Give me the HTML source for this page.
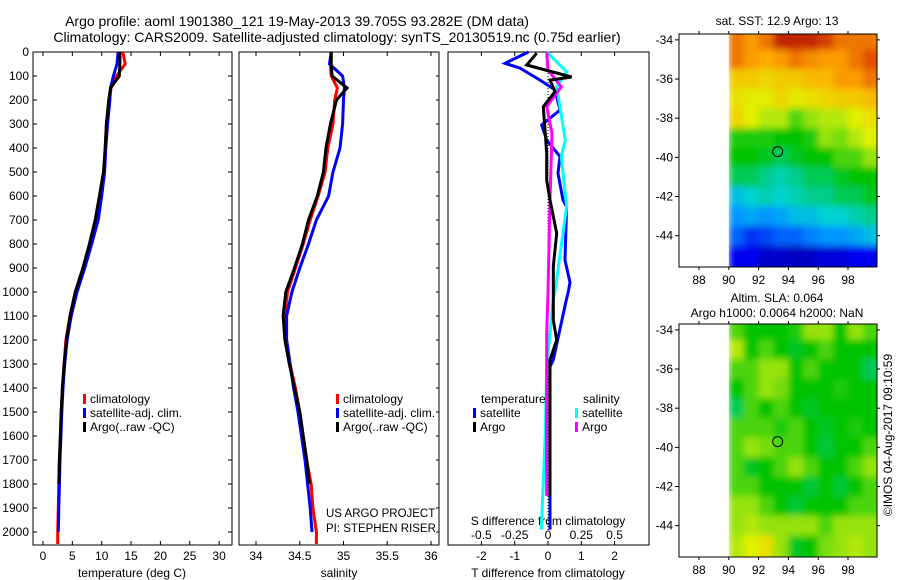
<!DOCTYPE html>
<html><head><meta charset="utf-8"><style>
html,body{margin:0;padding:0;background:#fff;}
svg{display:block;font-family:"Liberation Sans",sans-serif;}
text{font-size:12px;fill:#000;}
</style></head><body>
<svg id="chart" width="900" height="580" viewBox="0 0 900 580" xmlns="http://www.w3.org/2000/svg">
<defs>
<filter id="smooth" x="0" y="0" width="1" height="1"><feGaussianBlur stdDeviation="3.5" edgeMode="duplicate"/></filter>
</defs>
<text x="297" y="26" text-anchor="middle" style="font-size:14px">Argo profile: aoml 1901380_121 19-May-2013 39.705S 93.282E (DM data)</text>
<text x="337" y="42" text-anchor="middle" style="font-size:14px">Climatology: CARS2009. Satellite-adjusted climatology: synTS_20130519.nc (0.75d earlier)</text>
<text x="777" y="25" text-anchor="middle">sat. SST: 12.9 Argo: 13</text>
<text x="777" y="302" text-anchor="middle">Altim. SLA: 0.064</text>
<text x="777" y="317" text-anchor="middle">Argo h1000: 0.0064 h2000: NaN</text>
<text transform="translate(892,435) rotate(-90)" text-anchor="middle">©IMOS 04-Aug-2017 09:10:59</text>
<text x="326" y="517" style="font-size:11.5px">US ARGO PROJECT</text>
<text x="326" y="532" style="font-size:11.5px">PI: STEPHEN RISER</text>
<g id="g"></g>
</svg>
<script>
// ---- data ----
const depths = [0,50,100,150,200,300,400,500,600,700,800,900,1000,1100,1200,1300,1400,1500,1600,1700,1800,1900,2000,2050];
const tempClim = [13.6,14.0,12.5,11.6,11.3,10.8,10.6,10.4,9.7,9.1,8.0,6.8,5.5,4.6,3.9,3.6,3.3,3.1,3.0,2.8,2.7,2.6,2.5,2.5];
const tempSat  = [12.8,12.6,12.0,11.5,11.4,11.0,10.7,10.5,10.0,9.4,8.3,7.1,5.8,4.8,4.1,3.7,3.4,3.2,3.05,2.9,2.8,2.7,2.6,null];
const tempArgo = [13.1,13.1,13.0,11.5,11.2,10.8,10.6,10.3,9.6,8.9,7.9,6.8,5.5,4.6,4.0,3.6,3.3,3.1,2.95,2.8,2.7,null,null,null];
const salClim = [34.86,34.85,34.86,34.93,34.90,34.88,34.82,34.79,34.71,34.62,34.54,34.45,34.36,34.33,34.35,34.39,34.45,34.50,34.54,34.58,34.63,34.65,34.69,34.69];
const salSat  = [34.86,34.84,34.99,35.01,35.00,34.99,34.96,34.88,34.83,34.69,34.60,34.50,34.41,34.35,34.35,34.39,34.43,34.48,34.52,34.56,34.59,34.62,34.64,null];
const salArgo = [34.86,34.86,34.87,35.04,34.92,34.85,34.80,34.77,34.70,34.60,34.53,34.44,34.34,34.31,34.33,34.38,34.44,34.50,34.54,34.58,34.61,null,null,null];
const dTsatDepth = [0,47,67,117,158,242,304,367,436,505,617,645,867,960,1005,1033,1283,1311,1990];
const dTsat      = [-0.59,-1.29,-0.84,-0.24,0.21,0.36,-0.19,-0.04,0.36,0.30,0.45,0.56,0.51,0.66,0.60,0.55,0.16,0.06,0.06];
const dTargoDepth = [5,54,104,117,165,228,422,533,617,755,894,1033,1117,1200,1283,1850];
const dTargo      = [-0.34,-0.64,0.71,0.06,0.21,-0.14,-0.04,-0.04,0.06,0.26,0.16,0.16,0.16,0.26,0.06,0.06];
const dSsatDepth = [0,82,145,367,436,645,1005,1033,1311,1590,1990];
const dSsat      = [-0.01,0.14,0.065,0.13,0.10,0.14,0.05,0.04,-0.01,-0.02,-0.05];
const dSargoDepth = [0,75,145,228,339,617,1005,1172,1800,1850];
const dSargo      = [-0.01,0.0,0.10,-0.01,0.03,0.015,0.0,-0.01,-0.01,-0.01];
const mapLats = [-34,-35,-36,-37,-38,-39,-40,-41,-42,-43,-44,-45];
const mapLons = [90,91,92,93,94,95,96,97,98,99];
const sstGrid = [
[0.85,0.8,0.85,0.95,0.95,0.95,0.92,0.85,0.85,0.85],
[0.85,0.8,0.78,0.8,0.85,0.82,0.8,0.8,0.85,0.9],
[0.72,0.72,0.7,0.72,0.72,0.75,0.75,0.8,0.8,0.85],
[0.68,0.66,0.66,0.7,0.66,0.68,0.7,0.72,0.72,0.75],
[0.7,0.65,0.62,0.62,0.55,0.6,0.62,0.62,0.65,0.68],
[0.52,0.52,0.52,0.5,0.5,0.52,0.6,0.58,0.62,0.65],
[0.5,0.5,0.48,0.45,0.48,0.5,0.5,0.55,0.55,0.6],
[0.45,0.45,0.42,0.4,0.42,0.45,0.45,0.48,0.5,0.5],
[0.35,0.38,0.4,0.38,0.4,0.42,0.42,0.45,0.45,0.48],
[0.3,0.32,0.3,0.32,0.35,0.35,0.38,0.38,0.4,0.42],
[0.25,0.2,0.22,0.25,0.25,0.28,0.3,0.3,0.32,0.35],
[0.15,0.15,0.1,0.1,0.08,0.1,0.12,0.12,0.15,0.15]];
const slaGrid = [
[.55,.5,.5,.5,.52,.6,.6,.5,.6,.55],
[.62,.5,.55,.5,.48,.5,.55,.5,.5,.5],
[.55,.55,.6,.6,.5,.55,.5,.5,.5,.45],
[.5,.55,.6,.58,.5,.5,.5,.52,.5,.5],
[.45,.55,.5,.55,.5,.48,.5,.5,.5,.5],
[.55,.55,.55,.52,.55,.5,.48,.5,.52,.5],
[.55,.6,.58,.55,.55,.5,.47,.5,.5,.55],
[.55,.48,.5,.55,.6,.55,.5,.5,.55,.6],
[.55,.55,.5,.5,.5,.47,.5,.47,.5,.55],
[.6,.6,.55,.5,.47,.5,.5,.5,.55,.55],
[.6,.62,.6,.6,.6,.6,.55,.6,.6,.6],
[.62,.65,.68,.6,.48,.5,.58,.6,.62,.6]];
const floatLon = 93.28, floatLat = -39.705;
const depthTicks = [0,100,200,300,400,500,600,700,800,900,1000,1100,1200,1300,1400,1500,1600,1700,1800,1900,2000];
const tempTicks = [0,5,10,15,20,25,30];
const salTicks = [34,34.5,35,35.5,36];
const salTickLabels = ["34","34.5","35","35.5","36"];
const dTTicks = [-2,-1,0,1,2];
const dSTicks = [-0.5,-0.25,0,0.25,0.5];
const dSTickLabels = ["-0.5","-0.25","0","0.25","0.5"];
const latTicks = [-34,-36,-38,-40,-42,-44];
const lonTicks = [88,90,92,94,96,98];

// ---- helpers ----
const NS="http://www.w3.org/2000/svg";
const G=document.getElementById('g');
function mk(tag,attrs,parent){const e=document.createElementNS(NS,tag);for(const k in attrs)e.setAttribute(k,attrs[k]);(parent||G).appendChild(e);return e;}
const yD = d => 52 + 0.24*d;
const xT = t => 43 + 5.87*t;
const xS = s => 256 + 87.5*(s-34);
const xdT = v => 548 + 33.3*v;
const xdS = v => 548 + 133.2*v;

function panel(x0,x1,name){
  const r=mk('rect',{x:x0,y:52,width:x1-x0,height:493,fill:'none',stroke:'#000','stroke-width':1});
  
  
}
function line(xs,ds,fx,color,name,w){
  let pts=[];
  for(let i=0;i<xs.length;i++){ if(xs[i]===null) continue; pts.push(fx(xs[i]).toFixed(1)+','+yD(ds[i]).toFixed(1)); }
  const p=mk('polyline',{points:pts.join(' '),fill:'none',stroke:color,'stroke-width':w||3,'stroke-linejoin':'miter'});
  
  
}
function txt(x,y,s,anchor,name){
  const t=mk('text',{x:x,y:y,'text-anchor':anchor||'start'});t.textContent=s;
  
  
  return t;
}
function legend(x,y,color,label,name){
  const r=mk('rect',{x:x,y:y-9,width:3,height:10,fill:color});
  
  
  txt(x+7,y,label,'start',name);
}

panel(33,232,'temperature-panel');
panel(239,439,'salinity-panel');
panel(448,649,'difference-panel');

depthTicks.forEach(d=>{
  const y=yD(d);
  mk('line',{x1:33,y1:y,x2:37,y2:y,stroke:'#000'});
  mk('line',{x1:228,y1:y,x2:232,y2:y,stroke:'#000'});
  mk('line',{x1:436,y1:y,x2:439,y2:y,stroke:'#000'});
  txt(29,y+4,String(d),'end','depth-tick-label');
});
tempTicks.forEach(t=>{const x=xT(t);
  mk('line',{x1:x,y1:545,x2:x,y2:541,stroke:'#000'});mk('line',{x1:x,y1:52,x2:x,y2:56,stroke:'#000'});
  txt(x,560,String(t),'middle','temperature-tick-label');});
salTicks.forEach((s,i)=>{const x=xS(s);
  mk('line',{x1:x,y1:545,x2:x,y2:541,stroke:'#000'});mk('line',{x1:x,y1:52,x2:x,y2:56,stroke:'#000'});
  txt(x,560,salTickLabels[i],'middle','salinity-tick-label');});
dTTicks.forEach(v=>{const x=xdT(v);
  mk('line',{x1:x,y1:545,x2:x,y2:541,stroke:'#000'});mk('line',{x1:x,y1:52,x2:x,y2:56,stroke:'#000'});
  txt(x,560,String(v),'middle','t-diff-tick-label');});
dSTicks.forEach((v,i)=>{txt(xdS(v),539,dSTickLabels[i],'middle','s-diff-tick-label');});
txt(132,577,'temperature (deg C)','middle','temperature-axis-title');
txt(339,577,'salinity','middle','salinity-axis-title');
txt(548,577,'T difference from climatology','middle','t-diff-axis-title');
txt(548,525,'S difference from climatology','middle','s-diff-axis-title');

line(tempClim,depths,xT,'#ff0000','temperature-climatology-line');
line(tempSat,depths,xT,'#0000ff','temperature-satellite-line');
line(tempArgo,depths,xT,'#000000','temperature-argo-line');
line(salClim,depths,xS,'#ff0000','salinity-climatology-line');
line(salSat,depths,xS,'#0000ff','salinity-satellite-line');
line(salArgo,depths,xS,'#000000','salinity-argo-line');
const z=mk('line',{x1:xdT(0),y1:yD(0),x2:xdT(0),y2:yD(2000),stroke:'#000','stroke-dasharray':'1,2'});


line(dTsat,dTsatDepth,xdT,'#0000ff','t-diff-satellite-line');
line(dSsat,dSsatDepth,xdS,'#00ffff','s-diff-satellite-line');
line(dSargo,dSargoDepth,xdS,'#ff00ff','s-diff-argo-line');
line(dTargo,dTargoDepth,xdT,'#000000','t-diff-argo-line');

legend(83,403,'#ff0000','climatology','temp-legend-climatology');
legend(83,417,'#0000ff','satellite-adj. clim.','temp-legend-satellite');
legend(83,431,'#000000','Argo(..raw -QC)','temp-legend-argo');
legend(336,403,'#ff0000','climatology','sal-legend-climatology');
legend(336,417,'#0000ff','satellite-adj. clim.','sal-legend-satellite');
legend(336,431,'#000000','Argo(..raw -QC)','sal-legend-argo');
txt(481,403,'temperature','start','diff-legend-temperature-heading');
legend(473,417,'#0000ff','satellite','diff-legend-t-satellite');
legend(473,431,'#000000','Argo','diff-legend-t-argo');
txt(583,403,'salinity','start','diff-legend-salinity-heading');
legend(575,417,'#00ffff','satellite','diff-legend-s-satellite');
legend(575,431,'#ff00ff','Argo','diff-legend-s-argo');

// colormap
const cmStops=[[0,[0,0,130]],[0.15,[0,0,240]],[0.3,[0,150,255]],[0.38,[0,210,210]],[0.5,[0,195,0]],[0.56,[90,215,20]],[0.65,[225,240,0]],[0.78,[255,170,0]],[0.9,[225,80,0]],[1,[160,0,0]]];
function cmap(v){
  v=Math.max(0,Math.min(1,v));
  for(let i=1;i<cmStops.length;i++){
    if(v<=cmStops[i][0]){
      const a=cmStops[i-1],b=cmStops[i],t=(v-a[0])/(b[0]-a[0]);
      const c=a[1].map((x,k)=>Math.round(x+(b[1][k]-x)*t));
      return 'rgb('+c.join(',')+')';
    }
  }
  return 'rgb(160,0,0)';
}
function drawMap(top,bottom,grid,name){
  const x0=679,x1=877;
  const lonX=l=>699+(l-88)*14.9;
  const latTop=-33.7, latBot=-45.6;
  const latY=la=>top+(latTop-la)*(bottom-top)/(latTop-latBot);
  const cid='clip-'+name;
  const cp=mk('clipPath',{id:cid});mk('rect',{x:lonX(90),y:top,width:x1-lonX(90),height:bottom-top},cp);
  const outer=mk('g',{'clip-path':'url(#'+cid+')'});
  
  
  const g=mk('g',{filter:'url(#smooth)'},outer);
  mapLats.forEach((la,i)=>mapLons.forEach((lo,j)=>{
    const xa=lonX(lo), xb=lonX(lo+1);
    const ya=(i===0)?top-10:latY(la+0.5);
    const yb=(i===mapLats.length-1)?bottom+10:latY(la-0.5);
    const xl=(j===0)?xa:xa, xr=(j===mapLons.length-1)?xb+10:xb;
    const r=mk('rect',{x:xl.toFixed(1),y:ya.toFixed(1),width:(xr-xl+0.6).toFixed(1),height:(yb-ya+0.6).toFixed(1),fill:cmap(grid[i][j])},g);
    
    
  }));
  const fr=mk('rect',{x:x0,y:top,width:x1-x0,height:bottom-top,fill:'none',stroke:'#000'});
  
  
  latTicks.forEach(la=>{const y=latY(la);
    mk('line',{x1:x0,y1:y,x2:x0-4,y2:y,stroke:'#000'});mk('line',{x1:x1,y1:y,x2:x1+3,y2:y,stroke:'#000'});
    txt(673,y+4,String(la),'end',name+'-lat-label');});
  lonTicks.forEach(lo=>{const x=lonX(lo);
    mk('line',{x1:x,y1:bottom,x2:x,y2:bottom+3,stroke:'#000'});mk('line',{x1:x,y1:top,x2:x,y2:top-3,stroke:'#000'});
    txt(x,bottom+17,String(lo),'middle',name+'-lon-label');});
  const fl=mk('circle',{cx:lonX(floatLon),cy:latY(floatLat),r:5,fill:'none',stroke:'#000'});
  
  
}
drawMap(34,267,sstGrid,'sst-map');
drawMap(324,557,slaGrid,'sla-map');
</script>
</body></html>
